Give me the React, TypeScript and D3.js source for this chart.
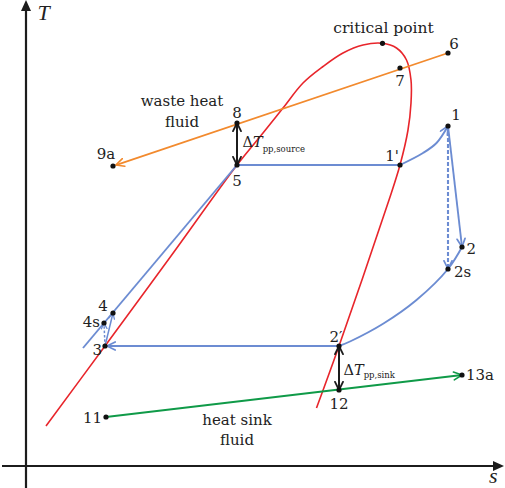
import React from "react";
import * as d3 from "d3";

type Pt = [number, number];

// Named state points of the cycle and the two external fluids, in (s, T) units
const stateNames = ["1", "1'", "2", "2s", "2′", "3", "4", "4s", "5", "6", "7", "8", "9a", "11", "12", "13a", "cp"];
const stateS = [42.2, 37.4, 43.6, 42.2, 31.3, 7.9, 8.7, 7.8, 21.1, 42.2, 37.4, 21.1, 8.7, 8.0, 31.3, 43.6, 35.65];
const stateT = [34.0, 30.1, 21.9, 19.7, 12.0, 12.0, 15.3, 14.3, 30.1, 41.3, 39.8, 34.3, 30.0, 4.9, 7.6, 9.1, 42.27];

// Saturation dome (liquid line, critical point, vapour line)
const domeS = [2.0, 7.9, 14.5, 21.1, 23.7, 25.7, 27.7, 29.7, 31.7, 33.7, 35.65, 37.05, 38.05, 38.5, 38.5, 38.2, 37.4, 36.3, 31.3, 29.05];
const domeT = [4.0, 12.0, 21.0, 30.1, 33.3, 35.8, 38.3, 39.95, 41.3, 42.1, 42.27, 41.8, 40.6, 38.6, 36.3, 33.6, 30.1, 26.6, 12.0, 5.8];

// Superheating 1' -> 1
const superS = [37.4, 39.7, 41.05, 42.2];
const superT = [30.1, 31.3, 32.3, 34.0];

// Low-pressure isobar 2' -> 2s -> 2
const condS = [31.3, 32.4, 35.75, 39.05, 42.2, 43.6];
const condT = [12.0, 12.45, 14.25, 16.6, 19.7, 21.9];

// High-pressure liquid isobar, running up to point 5
const hpS = [5.7, 21.1];
const hpT = [11.8, 30.1];

const RED = "#e8252b";
const ORANGE = "#f28a2e";
const BLUE = "#6c8cd2";
const GREEN = "#0f9a48";
const INK = "#1c1c1c";
const SERIF = "'DejaVu Serif', serif";

const zip = (a: number[], b: number[]): Pt[] => a.map((v, i) => [v, b[i]]);
const P = (name: string): Pt => {
  const i = stateNames.indexOf(name);
  return [stateS[i], stateT[i]];
};

function Arrow({ id, color, size, width }: { id: string; color: string; size: number; width: number }) {
  return (
    <marker
      id={id}
      viewBox="0 0 10 10"
      refX={9.2}
      refY={5}
      markerWidth={size}
      markerHeight={size}
      markerUnits="userSpaceOnUse"
      orient="auto-start-reverse"
    >
      <path d="M1,1 L9.2,5 L1,9" fill="none" stroke={color} strokeWidth={width} strokeLinecap="round" strokeLinejoin="round" />
    </marker>
  );
}

export default function App() {
  const x = d3.scaleLinear().domain([0, 47.8]).range([26, 504]);
  const y = d3.scaleLinear().domain([0, 46.6]).range([466, 0]);
  const straight = d3.line<Pt>().x((d) => x(d[0])).y((d) => y(d[1]));
  const smooth = d3
    .line<Pt>()
    .x((d) => x(d[0]))
    .y((d) => y(d[1]))
    .curve(d3.curveCatmullRom.alpha(0.5));

  // segment a -> b in pixels, with the end pulled back by `gap` px
  const seg = (a: Pt, b: Pt, gap = 0) => {
    const x0 = x(a[0]), y0 = y(a[1]), x1 = x(b[0]), y1 = y(b[1]);
    const len = Math.hypot(x1 - x0, y1 - y0);
    const k = (len - gap) / len;
    return `M${x0},${y0}L${x0 + (x1 - x0) * k},${y0 + (y1 - y0) * k}`;
  };

  const lbl = (name: string, text: string, dx: number, dy: number, anchor: string = "middle") => {
    const p = P(name);
    return (
      <text key={name} x={x(p[0]) + dx} y={y(p[1]) + dy} textAnchor={anchor}>
        {text}
      </text>
    );
  };

  const x0 = x(0), y0 = y(0);
  const xEnd = x(47.8), yTop = y(46.6);

  return (
    <div style={{ position: "absolute", left: 0, top: 0 }}>
      <svg width={505} height={488} style={{ display: "block", background: "#fff" }}>
        <defs>
          <Arrow id="aBlue" color={BLUE} size={10} width={1.7} />
          <Arrow id="aBlueSm" color={BLUE} size={7} width={1.8} />
          <Arrow id="aOrange" color={ORANGE} size={10} width={1.6} />
          <Arrow id="aGreen" color={GREEN} size={10} width={1.6} />
          <Arrow id="aInk" color={INK} size={10} width={1.8} />
        </defs>

        {/* axes */}
        <g stroke={INK} strokeWidth={2.2}>
          <line x1={x(-2.4)} y1={y0} x2={xEnd - 10} y2={y0} />
          <line x1={x0} y1={y(-2.3)} x2={x0} y2={yTop + 10} />
        </g>
        <path d={`M${xEnd},${y0}L${xEnd - 11},${y0 - 5}L${xEnd - 11},${y0 + 5}Z`} fill={INK} />
        <path d={`M${x0},${yTop}L${x0 - 5},${yTop + 11}L${x0 + 5},${yTop + 11}Z`} fill={INK} />

        {/* saturation dome */}
        <path d={smooth(zip(domeS, domeT)) ?? ""} fill="none" stroke={RED} strokeWidth={1.6} />

        {/* waste heat fluid */}
        <path d={seg(P("6"), P("9a"), 3)} fill="none" stroke={ORANGE} strokeWidth={1.8} markerEnd="url(#aOrange)" />

        {/* heat sink fluid */}
        <path d={seg(P("11"), P("13a"), 0)} fill="none" stroke={GREEN} strokeWidth={2} markerEnd="url(#aGreen)" />

        {/* cycle */}
        <g fill="none" stroke={BLUE} strokeWidth={1.9}>
          <path d={straight(zip(hpS, hpT)) ?? ""} />
          <path d={straight([P("5"), P("1'")]) ?? ""} />
          <path d={smooth(zip(superS, superT)) ?? ""} markerEnd="url(#aBlue)" />
          <path d={seg(P("1"), P("2"), 0)} markerEnd="url(#aBlue)" />
          <path d={seg(P("1"), P("2s"), 0)} strokeDasharray="4 2" strokeWidth={2.1} markerEnd="url(#aBlue)" />
          <path d={smooth(zip(condS, condT)) ?? ""} />
          <path d={seg(P("2′"), P("3"), 2)} markerEnd="url(#aBlue)" />
          <path d={seg(P("3"), P("4"), 0)} markerEnd="url(#aBlueSm)" strokeWidth={1.5} />
          <path d={seg(P("3"), P("4s"), 0)} strokeDasharray="2.5 1.8" markerEnd="url(#aBlueSm)" strokeWidth={1.5} />
        </g>

        {/* pinch point temperature differences */}
        <g fill="none" stroke={INK} strokeWidth={2}>
          <path d={seg(P("8"), P("5"), 0)} markerStart="url(#aInk)" markerEnd="url(#aInk)" />
          <path d={seg(P("2′"), P("12"), 0)} markerStart="url(#aInk)" markerEnd="url(#aInk)" />
        </g>

        {/* state points */}
        <g fill="#111">
          {stateNames.map((n) => {
            const p = P(n);
            return <circle key={n} cx={x(p[0])} cy={y(p[1])} r={2.6} />;
          })}
        </g>

        {/* labels */}
        <g fontFamily={SERIF} fontSize={15} fill="#222">
          {lbl("1", "1", 8, -6)}
          {lbl("1'", "1'", -8, -4)}
          {lbl("7", "7", 0, 18)}
          {lbl("6", "6", 6, -4)}
          {lbl("8", "8", 0, -5)}
          {lbl("5", "5", 0, 21)}
          {lbl("9a", "9a", -7, -7)}
          {lbl("2", "2", 4.5, 7, "start")}
          {lbl("2s", "2s", 6, 8, "start")}
          {lbl("2′", "2′", -3, -4)}
          {lbl("12", "12", 0, 19)}
          {lbl("13a", "13a", 4, 5, "start")}
          {lbl("11", "11", -4, 6, "end")}
          {lbl("3", "3", -3, 9, "end")}
          {lbl("4s", "4s", -4, 4, "end")}
          {lbl("4", "4", -10, -2)}
          <text x={x(P("cp")[0]) + 1} y={y(P("cp")[1]) - 10} textAnchor="middle" fontSize={15.5}>
            critical point
          </text>
          <text x={182} y={105.5} textAnchor="middle">waste heat</text>
          <text x={182} y={126.5} textAnchor="middle">fluid</text>
          <text x={237} y={425} textAnchor="middle">heat sink</text>
          <text x={237} y={445} textAnchor="middle">fluid</text>

          <text x={x(P("8")[0]) + 5.5} y={y(P("5")[1]) - 18.5} fontSize={14.5}>
            Δ<tspan fontStyle="italic">T</tspan>
            <tspan fontSize={8.5} dy={5}>pp,source</tspan>
          </text>
          <text x={x(P("12")[0]) + 4.5} y={y(P("12")[1]) - 15} fontSize={14.5}>
            Δ<tspan fontStyle="italic">T</tspan>
            <tspan fontSize={8.5} dy={3}>pp,sink</tspan>
          </text>
        </g>

        {/* axis titles */}
        <g fontFamily="'Liberation Serif', serif" fontStyle="italic" fontSize={22} fill="#222">
          <text x={37.5} y={19.5}>T</text>
          <text x={489} y={483}>s</text>
        </g>
      </svg>
    </div>
  );
}
